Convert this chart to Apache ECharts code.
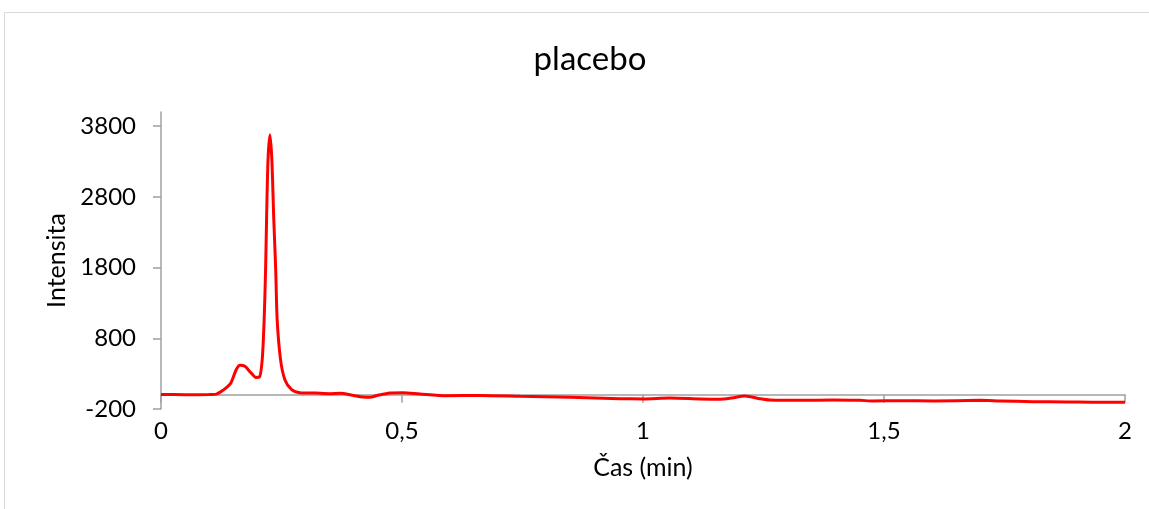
<!DOCTYPE html>
<html>
<head>
<meta charset="utf-8">
<script src="https://cdn.jsdelivr.net/npm/echarts@6/dist/echarts.min.js"></script>
<style>
  html, body { margin: 0; padding: 0; background: #ffffff; }
  #chart { width: 1149px; height: 509px; }
</style>
</head>
<body>
<div id="chart"></div>
<script>
// Chromatogram of the placebo sample: retention time (min) vs. intensity
const chartTitle = 'placebo';
const xAxisName = 'Čas (min)';
const yAxisName = 'Intensita';

const timeMin = [
  0, 0.05, 0.1, 0.115, 0.122, 0.135, 0.145, 0.156, 0.164, 0.174, 0.187, 0.197,
  0.204, 0.210, 0.214, 0.217, 0.219, 0.222, 0.226, 0.230, 0.234, 0.238, 0.241,
  0.248, 0.257, 0.271, 0.288, 0.320, 0.351, 0.371, 0.400, 0.419, 0.434, 0.448,
  0.475, 0.502, 0.537, 0.593, 0.662, 0.745, 0.849, 0.952, 1.000, 1.056, 1.118,
  1.160, 1.180, 1.212, 1.243, 1.263, 1.326, 1.394, 1.450, 1.477, 1.533, 1.602,
  1.699, 1.741, 1.809, 1.880, 1.948, 2.000
];
const intensity = [
  5, 3, 4, 10, 35, 98, 168, 356, 417, 403, 310, 247,
  250, 498, 1063, 1770, 2477, 3325, 3680, 3325, 2477, 1770, 1063,
  498, 215, 74, 31, 25, 17, 21, -10, -30, -35, -10,
  27, 31, 13, -11, -8, -20, -35, -54, -58, -45, -58,
  -62, -49, -16, -54, -72, -78, -72, -78, -86, -82, -86,
  -78, -86, -96, -100, -106, -104
];

const xTicks = [0, 0.5, 1, 1.5, 2];
const yTicks = [-200, 800, 1800, 2800, 3800];

const points = timeMin.map((t, i) => [t, intensity[i]]);

const fontFamily = 'Lato, "Open Sans", sans-serif';
const axisGray = '#a0a0a0';

const chart = echarts.init(document.getElementById('chart'), null, { renderer: 'canvas' });
chart.setOption({
  backgroundColor: '#ffffff',
  animation: false,
  title: {
    text: chartTitle,
    left: 585,
    top: 38,
    textAlign: 'center',
    textStyle: { fontFamily, fontSize: 33, fontWeight: 'normal', color: '#000000' }
  },
  graphic: [{
    type: 'rect',
    shape: { x: 4.5, y: 12.5, width: 1200, height: 600 },
    style: { fill: 'none', stroke: '#d9d9d9', lineWidth: 1 },
    silent: true
  }],
  grid: { left: 161, right: 24, top: 112, bottom: 100, containLabel: false },
  xAxis: {
    type: 'value',
    min: 0,
    max: 2,
    interval: 0.5,
    name: xAxisName,
    nameLocation: 'middle',
    nameGap: 46,
    nameTextStyle: { fontFamily, fontSize: 25, color: '#000000' },
    axisLine: { show: true, onZero: true, lineStyle: { color: axisGray, width: 1.5 } },
    axisTick: { show: true, inside: false, length: 8, lineStyle: { color: axisGray, width: 1.5 },
      customValues: xTicks },
    axisLabel: {
      fontFamily, fontSize: 24, color: '#000000', margin: 10,
      customValues: xTicks,
      formatter: v => String(v).replace('.', ',')
    },
    splitLine: { show: false }
  },
  yAxis: {
    type: 'value',
    min: -200,
    max: 4000,
    name: yAxisName,
    nameLocation: 'middle',
    nameRotate: 90,
    nameGap: 92,
    nameTextStyle: { fontFamily, fontSize: 25, color: '#000000' },
    axisLine: { show: true, lineStyle: { color: axisGray, width: 1.5 } },
    axisTick: { show: true, inside: false, length: 8, lineStyle: { color: axisGray, width: 1.5 },
      customValues: yTicks },
    axisLabel: {
      fontFamily, fontSize: 24, color: '#000000', margin: 25, customValues: yTicks,
      formatter: v => String(v)
    },
    splitLine: { show: false }
  },
  series: [{
    type: 'line',
    data: points,
    showSymbol: false,
    smooth: 0.25,
    lineStyle: { color: '#ff0000', width: 3 },
    itemStyle: { color: '#ff0000' }
  }]
});
</script>
</body>
</html>
